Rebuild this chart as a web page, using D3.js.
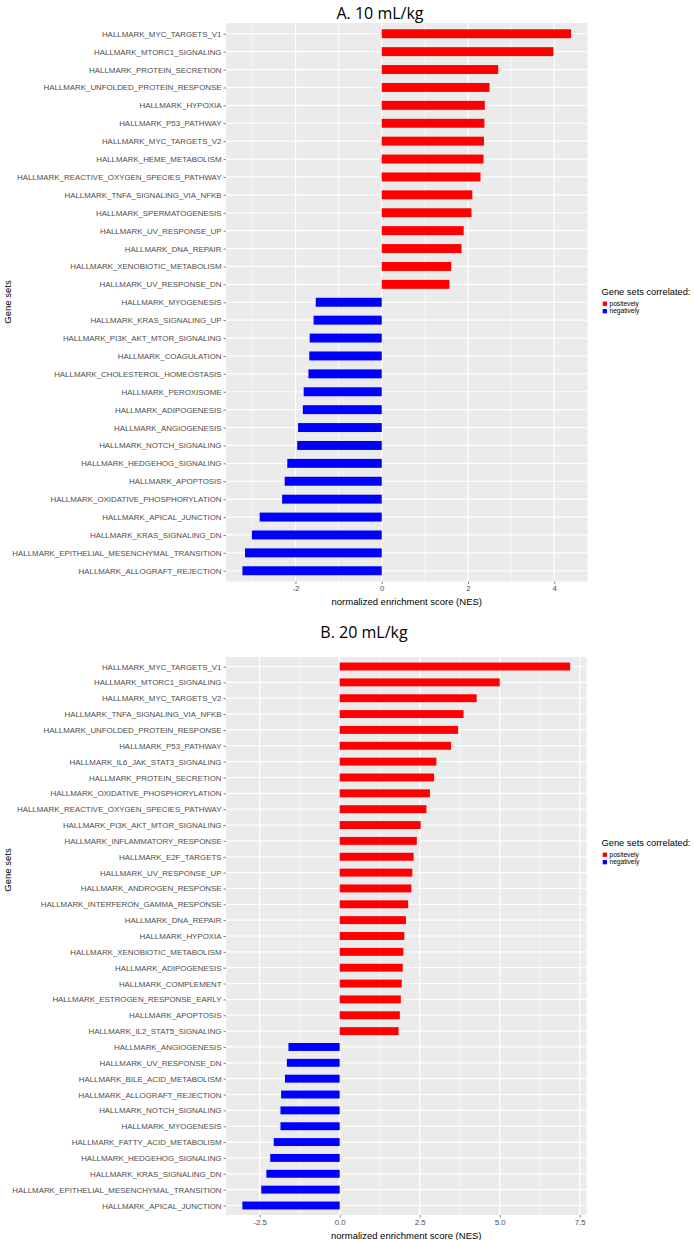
<!DOCTYPE html>
<html><head><meta charset="utf-8">
<script src="https://cdn.jsdelivr.net/npm/d3@7"></script>
<style>body{margin:0;background:#fff}svg{display:block}</style>
</head><body>
<svg id="c" width="695" height="1240"></svg>
<script>
// ---- Data ----
const topTitle = "A. 10 mL/kg";
const topCategories = [
"HALLMARK_MYC_TARGETS_V1","HALLMARK_MTORC1_SIGNALING","HALLMARK_PROTEIN_SECRETION",
"HALLMARK_UNFOLDED_PROTEIN_RESPONSE","HALLMARK_HYPOXIA","HALLMARK_P53_PATHWAY",
"HALLMARK_MYC_TARGETS_V2","HALLMARK_HEME_METABOLISM","HALLMARK_REACTIVE_OXYGEN_SPECIES_PATHWAY",
"HALLMARK_TNFA_SIGNALING_VIA_NFKB","HALLMARK_SPERMATOGENESIS","HALLMARK_UV_RESPONSE_UP",
"HALLMARK_DNA_REPAIR","HALLMARK_XENOBIOTIC_METABOLISM","HALLMARK_UV_RESPONSE_DN",
"HALLMARK_MYOGENESIS","HALLMARK_KRAS_SIGNALING_UP","HALLMARK_PI3K_AKT_MTOR_SIGNALING",
"HALLMARK_COAGULATION","HALLMARK_CHOLESTEROL_HOMEOSTASIS","HALLMARK_PEROXISOME",
"HALLMARK_ADIPOGENESIS","HALLMARK_ANGIOGENESIS","HALLMARK_NOTCH_SIGNALING",
"HALLMARK_HEDGEHOG_SIGNALING","HALLMARK_APOPTOSIS","HALLMARK_OXIDATIVE_PHOSPHORYLATION",
"HALLMARK_APICAL_JUNCTION","HALLMARK_KRAS_SIGNALING_DN","HALLMARK_EPITHELIAL_MESENCHYMAL_TRANSITION",
"HALLMARK_ALLOGRAFT_REJECTION"];
const topValues = [4.39,3.98,2.70,2.50,2.39,2.38,2.37,2.36,2.29,2.10,2.08,1.90,1.85,1.61,1.57,
-1.53,-1.58,-1.67,-1.68,-1.70,-1.81,-1.83,-1.94,-1.96,-2.19,-2.25,-2.31,-2.83,-3.01,-3.17,-3.23];
const topTicks = [-2,0,2,4];
const topTickLabels = ["-2","0","2","4"];
const topMinor = [-3,-1,1,3];

const bottomTitle = "B. 20 mL/kg";
const bottomCategories = [
"HALLMARK_MYC_TARGETS_V1","HALLMARK_MTORC1_SIGNALING","HALLMARK_MYC_TARGETS_V2",
"HALLMARK_TNFA_SIGNALING_VIA_NFKB","HALLMARK_UNFOLDED_PROTEIN_RESPONSE","HALLMARK_P53_PATHWAY",
"HALLMARK_IL6_JAK_STAT3_SIGNALING","HALLMARK_PROTEIN_SECRETION","HALLMARK_OXIDATIVE_PHOSPHORYLATION",
"HALLMARK_REACTIVE_OXYGEN_SPECIES_PATHWAY","HALLMARK_PI3K_AKT_MTOR_SIGNALING","HALLMARK_INFLAMMATORY_RESPONSE",
"HALLMARK_E2F_TARGETS","HALLMARK_UV_RESPONSE_UP","HALLMARK_ANDROGEN_RESPONSE",
"HALLMARK_INTERFERON_GAMMA_RESPONSE","HALLMARK_DNA_REPAIR","HALLMARK_HYPOXIA",
"HALLMARK_XENOBIOTIC_METABOLISM","HALLMARK_ADIPOGENESIS","HALLMARK_COMPLEMENT",
"HALLMARK_ESTROGEN_RESPONSE_EARLY","HALLMARK_APOPTOSIS","HALLMARK_IL2_STAT5_SIGNALING",
"HALLMARK_ANGIOGENESIS","HALLMARK_UV_RESPONSE_DN","HALLMARK_BILE_ACID_METABOLISM",
"HALLMARK_ALLOGRAFT_REJECTION","HALLMARK_NOTCH_SIGNALING","HALLMARK_MYOGENESIS",
"HALLMARK_FATTY_ACID_METABOLISM","HALLMARK_HEDGEHOG_SIGNALING","HALLMARK_KRAS_SIGNALING_DN",
"HALLMARK_EPITHELIAL_MESENCHYMAL_TRANSITION","HALLMARK_APICAL_JUNCTION"];
const bottomValues = [7.20,5.00,4.28,3.87,3.70,3.48,3.02,2.95,2.82,2.71,2.53,2.41,2.31,2.27,2.24,
2.14,2.07,2.02,1.99,1.97,1.94,1.91,1.88,1.84,
-1.60,-1.65,-1.71,-1.83,-1.85,-1.85,-2.06,-2.17,-2.29,-2.45,-3.04];
const bottomTicks = [-2.5,0,2.5,5,7.5];
const bottomTickLabels = ["-2.5","0.0","2.5","5.0","7.5"];
const bottomMinor = [-1.25,1.25,3.75,6.25];

const legendTitle = "Gene sets correlated:";
const legendLabels = ["positevely","negatively"];
const legendColors = ["#FF0000","#0000FF"];
const xTitle = "normalized enrichment score (NES)";
const yTitle = "Gene sets";

// ---- Drawing ----
const svg = d3.select("#c");
const FONT = "'Liberation Sans', Arial, sans-serif";

function panel(o){
  const g = svg.append("g");
  const lo = Math.min(0, d3.min(o.values)), hi = Math.max(0, d3.max(o.values));
  const pad = (hi - lo) * 0.05;
  const x = d3.scaleLinear().domain([lo - pad, hi + pad]).range([o.left, o.right]);
  const y = d3.scalePoint().domain(o.categories).range([o.top, o.bottom]).padding(0.6);
  const step = y.step();
  g.append("rect").attr("x", o.left).attr("y", o.top)
    .attr("width", o.right - o.left).attr("height", o.bottom - o.top).attr("fill", "#EBEBEB");
  g.selectAll(".mn").data(o.minor).join("line")
    .attr("x1", d => x(d)).attr("x2", d => x(d)).attr("y1", o.top).attr("y2", o.bottom)
    .attr("stroke", "#fff").attr("stroke-width", 0.6);
  g.selectAll(".mj").data(o.ticks).join("line")
    .attr("x1", d => x(d)).attr("x2", d => x(d)).attr("y1", o.top).attr("y2", o.bottom)
    .attr("stroke", "#fff").attr("stroke-width", 1.2);
  g.selectAll(".hg").data(o.categories).join("line")
    .attr("x1", o.left).attr("x2", o.right).attr("y1", d => y(d)).attr("y2", d => y(d))
    .attr("stroke", "#fff").attr("stroke-width", 1.2);
  g.selectAll(".bar").data(o.values).join("rect")
    .attr("x", d => x(Math.min(0, d)))
    .attr("width", d => Math.abs(x(d) - x(0)))
    .attr("y", (d, i) => y(o.categories[i]) - step * 0.25)
    .attr("height", step * 0.5)
    .attr("fill", d => d >= 0 ? legendColors[0] : legendColors[1]);
  const ya = d3.axisLeft(y).tickSize(2.5).tickPadding(2);
  const yg = g.append("g").attr("transform", `translate(${o.left},0)`).call(ya);
  yg.select(".domain").remove();
  yg.selectAll(".tick line").attr("stroke", "#333").attr("stroke-width", 0.6);
  yg.selectAll(".tick text").attr("fill", "#4D4D4D").style("font-family", FONT).style("font-size", "7.9px");
  const xa = d3.axisBottom(x).tickValues(o.ticks).tickFormat((d, i) => o.tickLabels[i]).tickSize(2.5).tickPadding(1.5);
  const xg = g.append("g").attr("transform", `translate(0,${o.bottom})`).call(xa);
  xg.select(".domain").remove();
  xg.selectAll(".tick line").attr("stroke", "#333").attr("stroke-width", 0.6);
  xg.selectAll(".tick text").attr("fill", "#4D4D4D").style("font-family", FONT).style("font-size", "7.9px");
  g.append("text").attr("x", (o.left + o.right) / 2).attr("y", o.bottom + 23.5)
    .attr("text-anchor", "middle").style("font-family", FONT).style("font-size", "9.5px").attr("fill", "#000").text(xTitle);
  g.append("text").attr("transform", `translate(10.5,${o.yTitleY}) rotate(-90)`)
    .attr("text-anchor", "middle").style("font-family", FONT).style("font-size", "9.5px").attr("fill", "#000").text(yTitle);
  g.append("text").attr("x", o.titleX).attr("y", o.titleY).attr("text-anchor", "middle")
    .style("font-family", "'Open Sans', 'Noto Sans', sans-serif").style("font-size", "16px").attr("fill", "#000").text(o.title);
  const lg = g.append("g").attr("transform", `translate(601.5,${o.legendY})`);
  lg.append("text").attr("x", 0).attr("y", 3.3).style("font-family", FONT).style("font-size", "9.3px").text(legendTitle);
  legendLabels.forEach((lab, i) => {
    lg.append("rect").attr("x", 1.2).attr("y", 9.6 + i * 7.4).attr("width", 4.3).attr("height", 4.3).attr("fill", legendColors[i]);
    lg.append("text").attr("x", 8).attr("y", 13.8 + i * 7.4).style("font-family", FONT).style("font-size", "6.6px").attr("fill", "#000").text(lab);
  });
}

panel({title: topTitle, titleX: 380, titleY: 18.5, categories: topCategories, values: topValues,
  ticks: topTicks, tickLabels: topTickLabels, minor: topMinor,
  left: 226, right: 587.5, top: 23, bottom: 581.5, yTitleY: 302, legendY: 292});
panel({title: bottomTitle, titleX: 364, titleY: 638, categories: bottomCategories, values: bottomValues,
  ticks: bottomTicks, tickLabels: bottomTickLabels, minor: bottomMinor,
  left: 226, right: 586.5, top: 657, bottom: 1215, yTitleY: 870, legendY: 843});
</script>
</body></html>
